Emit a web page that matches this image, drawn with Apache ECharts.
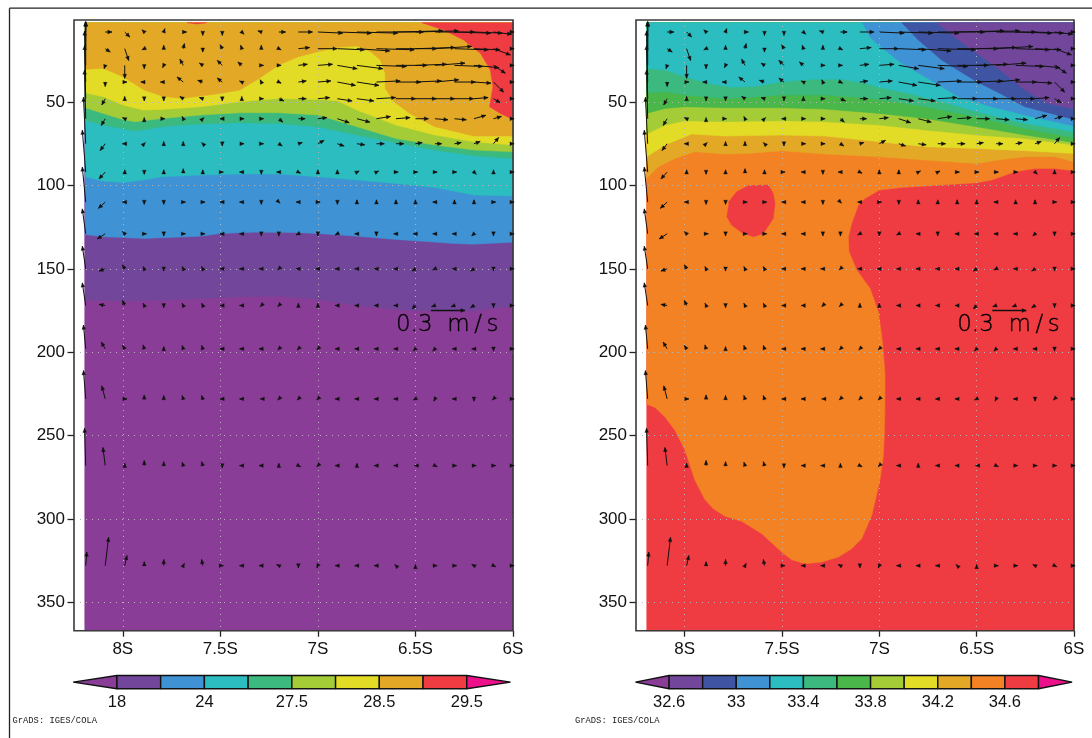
<!DOCTYPE html>
<html><head><meta charset="utf-8">
<style>html,body{margin:0;padding:0;background:#fff}#c{width:1092px;height:738px}</style>
<script src="https://cdn.jsdelivr.net/npm/echarts@6/dist/echarts.min.js"></script>
</head><body><div id="c"></div>
<script>
// ---------- axes ----------
const latTicks = [-8, -7.5, -7, -6.5, -6];
const depthTicks = [50, 100, 150, 200, 250, 300, 350];

// ---------- colours ----------
const PURPLE='#8a3d96', DPURPLE='#72479b', DBLUE='#3f55a4', BLUE='#3f92d3', TEAL='#2bbdc0',
      TGREEN='#3bb97f', GREEN='#49b749', LIME='#a3cc36', YELLOW='#e3dc26', GOLD='#e3a825',
      ORANGE='#f28223', RED='#ef3c42', MAGENTA='#ec118a';

// ---------- colour bars ----------
const tempBarColors = [PURPLE,DPURPLE,BLUE,TEAL,TGREEN,LIME,YELLOW,GOLD,RED,MAGENTA];
const tempBarLabels = {1:'18',3:'24',5:'27.5',7:'28.5',9:'29.5'};
const saltBarColors = [PURPLE,DPURPLE,DBLUE,BLUE,TEAL,TGREEN,GREEN,LIME,YELLOW,GOLD,ORANGE,RED,MAGENTA];
const saltBarLabels = {1:'32.6',3:'33',5:'33.4',7:'33.8',9:'34.2',11:'34.6'};

// ---------- field extent ----------
const fieldLeftLat = -8.195, fieldRightLat = -6, fieldTop = 2.4, fieldBottom = 367;

// ---------- temperature isolines: [lat, depth] ----------
const t18 = [[-8.193,168.8],[-8,169.4],[-7.8,168.8],[-7.6,167.8],[-7.4,166.8],[-7.2,166.4],[-7,168.4],[-6.8,171.8],[-6.6,174.4],[-6.5,175.2],[-6.3,175.2],[-6.2,174.8],[-6,172.4]];
const t21 = [[-8.193,129.4],[-8.1,130.8],[-8,131.2],[-7.894,131.8],[-7.8,131.4],[-7.6,130.4],[-7.5,128.8],[-7.33,128],[-7.125,128.2],[-7,128.8],[-6.8,130.4],[-6.6,132.4],[-6.5,133.2],[-6.3,134.8],[-6.2,135.2],[-6,134]];
const t24 = [[-8.193,94.8],[-8.1,97.4],[-8,98.2],[-7.894,96.8],[-7.8,94.8],[-7.6,93.8],[-7.4,93.2],[-7.2,93.2],[-7,94.8],[-6.8,96.8],[-6.6,98.8],[-6.4,101.2],[-6.2,105.8],[-6,106.4]];
const t26 = [[-8.193,60.8],[-8.1,63.8],[-8,65.8],[-7.937,67.4],[-7.8,64.8],[-7.7,63.8],[-7.6,63.2],[-7.4,62.4],[-7.2,62.8],[-7,64.8],[-6.8,69.8],[-6.6,74.4],[-6.4,78.8],[-6.2,82.2],[-6,83.8]];
const t275 = [[-8.193,53.4],[-8.1,56.8],[-8,60.4],[-7.937,61.8],[-7.8,59.8],[-7.6,57.8],[-7.4,56.4],[-7.2,56.4],[-7,57.8],[-6.8,64.8],[-6.6,71.8],[-6.4,75.8],[-6.2,78.8],[-6,79.8]];
const t28 = [[-8.193,44.4],[-8.1,46.8],[-8,51.8],[-7.894,54.8],[-7.8,54.4],[-7.6,52.8],[-7.4,49.8],[-7.2,47.8],[-7,48.4],[-6.9,49.2],[-6.8,54.8],[-6.6,63.8],[-6.4,69.8],[-6.2,73.8],[-6,75.8]];
const t285 = [[-8.19,30.4],[-8.1,29.8],[-8,34.8],[-7.89,42.8],[-7.8,46.4],[-7.7,47.8],[-7.6,46.4],[-7.5,44.8],[-7.4,42.8],[-7.3,35.8],[-7.2,27.8],[-7.1,22.8],[-7,19.8],[-6.9,17.2],[-6.8,16.4],[-6.73,19.8],[-6.68,24.8],[-6.655,32.8],[-6.655,41.8],[-6.61,49.8],[-6.53,56.8],[-6.4,64.8],[-6.2,70.4],[-6,70.4]];
const t29 = [[-6.467,2.4],[-6.355,6.8],[-6.253,12.8],[-6.167,20.8],[-6.116,30.8],[-6.103,40.8],[-6.12,52.8],[-6.065,56.8],[-6,60.4]];
const t29Sliver = [[-7.67,2.4],[-7.62,3.2],[-7.57,2.4]];

// ---------- salinity isolines: [lat, depth] ----------
const s344 = [[-6,91.2],[-6.098,89.8],[-6.2,89.8],[-6.303,91.8],[-6.423,96.8],[-6.5,98.4],[-6.68,99.8],[-6.885,101.2],[-7,102.8],[-7.074,107.8],[-7.108,111.8],[-7.142,122.8],[-7.159,130.8],[-7.156,139.8],[-7.116,150.8],[-7.048,161.8],[-7.005,175.8],[-6.985,192.8],[-6.971,212.8],[-6.971,228.8],[-6.974,248.8],[-6.98,262.8],[-6.997,276.8],[-7.039,297.8],[-7.091,311.8],[-7.142,317.8],[-7.21,322.8],[-7.296,325.8],[-7.382,326.8],[-7.45,324.4],[-7.502,319.8],[-7.604,308.8],[-7.707,301.4],[-7.793,298.4],[-7.853,293.8],[-7.896,288.4],[-7.947,276.8],[-7.998,258.8],[-8.05,246.8],[-8.101,238.8],[-8.152,233.2],[-8.195,231.2]];
const s344Blob = [[-7.776,110.2],[-7.733,103.8],[-7.673,100.2],[-7.57,99.8],[-7.545,104.8],[-7.536,110.8],[-7.545,119.8],[-7.596,128.8],[-7.647,130.8],[-7.707,128.2],[-7.759,123.8],[-7.783,118.8],[-7.772,110.8]];
const s342 = [[-8.195,95.8],[-8.135,88.8],[-8.05,83.8],[-7.947,79.8],[-7.793,81.2],[-7.673,80.8],[-7.502,79.2],[-7.279,81.2],[-7,82.8],[-6.765,84.8],[-6.5,86.8],[-6.389,84.8],[-6.252,82.8],[-6.098,82.8],[-6,85.8]];
const s340 = [[-8.195,82.8],[-8.101,75.8],[-7.964,69.2],[-7.793,70.4],[-7.502,69.8],[-7.279,70.4],[-7,73.8],[-6.765,76.8],[-6.5,77.8],[-6.252,79.2],[-6,80.8]];
const s338 = [[-8.195,69.2],[-8.101,63.8],[-7.998,61.2],[-7.793,61.8],[-7.502,61.2],[-7.279,61.8],[-7,63.8],[-6.765,66.8],[-6.5,69.8],[-6.252,71.8],[-6,75.8]];
const s336 = [[-8.195,56.8],[-8.101,53.8],[-7.998,52.8],[-7.793,53.4],[-7.502,53.4],[-7.279,54.2],[-7,56.8],[-6.765,59.8],[-6.5,64.8],[-6.252,69.8],[-6,74.2]];
const s334 = [[-8.195,44.4],[-8.101,43.8],[-7.998,45.8],[-7.793,47.8],[-7.673,47.2],[-7.502,45.8],[-7.279,45.8],[-7.108,47.2],[-7,48.4],[-6.765,52.8],[-6.5,58.8],[-6.252,65.8],[-6,71.4]];
const s332 = [[-8.195,29.8],[-8.101,30.8],[-7.998,34.8],[-7.878,38.8],[-7.759,41.2],[-7.622,40.4],[-7.502,37.8],[-7.348,36.4],[-7.193,36.4],[-7.074,38.8],[-7,41.2],[-6.851,44.8],[-6.68,49.8],[-6.5,55.8],[-6.252,62.8],[-6,67.8]];
const s330 = [[-7.087,2.4],[-7.048,10.8],[-7.005,15.8],[-6.885,26.8],[-6.765,34.8],[-6.594,46.8],[-6.423,52.8],[-6.252,57.8],[-6,64.4]];
const s328 = [[-6.885,2.4],[-6.8,12.8],[-6.68,24.8],[-6.5,37.8],[-6.38,44.8],[-6.252,52.8],[-6,60.4]];
const s326 = [[-6.705,2.4],[-6.594,12.8],[-6.5,20.8],[-6.38,30.8],[-6.252,42.8],[-6.132,50.8],[-6,54.2]];

// ---------- velocity section, cm/s, shared by both panels ----------
const vectorLats = [-8.19,-8.09,-7.99,-7.89,-7.79,-7.69,-7.59,-7.49,-7.39,-7.29,-7.2,-7.1,-7,-6.9,-6.8,-6.7,-6.6,-6.5,-6.4,-6.3,-6.2,-6.1,-6];
const vectorDepths = [8,18,28,38,48,60,75,92,110,129,150,172,198,228,268,328];
const u08=[0,6,4.5,-2,1,3,0,0,2,-3,6,12.5,22,30,36,41.5,41.5,38,35,32,25,16,1];
const w08=[9,0,-4.5,2,3,0,-3,-3,-2,1,0,0,-1,-1,-1,0,1,1,0,-1,-1,-2,0];
const u18=[0,4.5,3.5,-2,0,1,0,-2,-1,0,2,10,17,24,29,33.5,36,35,32.5,30,23,15,1];
const w18=[24,-3,-10.5,-1,3,4.5,-3,3.5,3,3,-1,1,0,-1,-2,-1,0,1,2,-1,-1,-5.5,0];
const u28=[0,-1,0,0,-1,-3,-3,-4.5,-3.5,2,2,8,13,17.5,23,26.5,27.5,27.5,26.5,25,22,10.5,1];
const w28=[38,-3,-11.5,-3,-2,5.5,2,4.5,3,0,0,1,1,-3,-3,-1,0,1,2,-1,-2,-7,0];
const u38=[-1,0,2,-3,-3,-5.5,-4.5,-4.5,-2,-1,2,7,11.5,16,19.5,21,22,23,21,18.5,15,9,1];
const w38=[45,-4,0,0,0,4.5,1.5,3.5,1,2,-1,1,1,-3,-3,1,0,1,2,0,-1,-9,0];
const u48=[-1,-3,0,0,0,-3,-3,0,0,2,4.5,7,10.5,13,15,17,17.5,18.5,17.5,17,12.5,6,1];
const w48=[47,-5.5,2,-2,-2,2,1,-2,2,0,-2,0,1,-2,-2,1,0,0,0,0,1,-3.5,0];
const u60=[-1,-3.5,-2,0,1,-1,1,-2,2,2,3.5,6,8,10.5,11.5,12.5,12.5,11.5,11.5,10.5,10.5,7,1];
const w60=[43,-6,1,1,0,2,1,0,0,0,-3,0,1,-3.5,-3,2,1,0,-1,-1,3,2,0];
const u75=[-2,-4.5,-2,1,0,0,-1,0,2,2,3,3.5,5.5,6,7,7,7,6,6,6,5.5,4.5,1];
const w75=[41,-6,0,1,2,2,1,-2,0,0,-2,1,3,-2,-1,0,0,1,0,1,2,5.5,0];
const u92=[-3,-5.5,0,0,0,0,0,1,-2,0,-2,2,0,0,2,2,2,2,2,2,2,0,1];
const w92=[37,-6,2,-2,2,3,2,0,0,-2,0,-1,2,2,1,1,0,0,0,0,-2,2,0];
const u110=[-3,-6,-2,0,0,2,2,-2,-2,0,1,-2,2,0,0,0,0,0,-2,0,0,2,1];
const w110=[31,-5.5,0,-2,-2,0,0,0,0,-2,-1,0,0,-2,2,2,2,2,0,2,2,0,0];
const u129=[-3,-7,-2,2,0,2,2,-2,-2,0,0,-2,0,-2,-2,0,-2,-2,-2,-2,-2,0,1];
const w129=[22,-4.5,2,0,-2,0,0,0,0,-2,-2,-1,-2,-1,0,-2,0,0,0,0,-2,-2,0];
const u150=[-3,-5.5,-2,-1,0,-1,-1,-2,-2,-2,-1,-2,-2,-2,-2,-2,-2,-3,-2,-2,-3,0,1];
const w150=[20,-2,3.5,2,-2,2,2,0,0,0,-1,0,0,0,0,0,0,-2,-1,0,-2,-2,0];
const u172=[-3,-5.5,-2,-1,0,-1,-1,-2,-2,-1,-1,0,0,-2,-2,-2,-2,-3,-3,-3,-3,0,1];
const w172=[20,1,4.5,2,-2,2,2,0,0,-1,-1,2,2,0,0,0,0,-3,-1,-1,-2,-2,0];
const u198=[-2,-3.5,-2,-1,0,-1,-1,-2,-2,-2,-1,-1,-1,-2,-2,-2,-2,-2,-2,-2,-2,0,1];
const w198=[21,6,3,3.5,2,3,3,0,0,0,-1,-1,-1,0,0,0,0,-2,-2,0,0,-2,0];
const u228=[-2,-3,2,0,0,-1,-1,-2,-2,-1,-1,-1,-1,-2,-2,-2,-2,-2,-1,-2,0,-1,1];
const w228=[25,11.5,0,3.5,3,3,3,0,0,0,-1,-1,-1,0,0,0,0,-1,-2,0,-2,-1,0];
const u268=[-1,-2,0,0,0,-1,-1,0,-2,-2,0,2,-1,-2,0,-2,-2,-1,2,2,2,2,1];
const w268=[33,16,2,4.5,3.5,3,3.5,-2,0,0,2,-1,-1,0,2,0,0,0,-1,0,0,0,0];
const u328=[1,3,2,0,0,1,-1,1,-2,-2,-2,0,-1,-2,-2,-2,-1,0,2,2,-2,2,1];
const w328=[12,25,9,3.5,5.5,2,5.5,0,0,0,1,-2,-2,0,0,0,1,1,0,0,1,-1,0];
const uRows=[u08,u18,u28,u38,u48,u60,u75,u92,u110,u129,u150,u172,u198,u228,u268,u328];
const wRows=[w08,w18,w28,w38,w48,w60,w75,w92,w110,w129,w150,w172,w198,w228,w268,w328];
const refVector = [-6.42, 175, 30, 0];
const refLabelPos = [-6.6, 184];
const refLabel = '0.3  m\u2009/\u2009s';

// ---------- build ----------
const PX_PER_CM = 34/30;
const full = [[fieldLeftLat,fieldBottom],[fieldRightLat,fieldBottom],[fieldRightLat,fieldTop],[fieldLeftLat,fieldTop]];
const above = l => l.concat([[fieldRightLat,fieldTop],[l[0][0],fieldTop]]);

const tempBands = [
  [PURPLE,full],[DPURPLE,above(t18)],[BLUE,above(t21)],[TEAL,above(t24)],[TGREEN,above(t26)],
  [LIME,above(t275)],[YELLOW,above(t28)],[GOLD,above(t285)],[RED,above(t29)],[RED,t29Sliver]
];
const saltBands = [
  [RED,full],[ORANGE,s344.concat([[fieldLeftLat,fieldTop],[fieldRightLat,fieldTop]])],[RED,s344Blob],
  [GOLD,above(s342)],[YELLOW,above(s340)],[LIME,above(s338)],[GREEN,above(s336)],[TGREEN,above(s334)],
  [TEAL,above(s332)],[BLUE,above(s330)],[DBLUE,above(s328)],[DPURPLE,above(s326)]
];

function bandSeries(bands, ax){
  return {type:'custom',coordinateSystem:'cartesian2d',xAxisIndex:ax,yAxisIndex:ax,z:1,silent:true,animation:false,
    data:bands.map((b,i)=>[i]),
    renderItem(p,api){
      const b=bands[p.dataIndex];
      return {type:'polygon',shape:{points:b[1].map(q=>api.coord(q))},style:{fill:b[0],stroke:b[0],lineWidth:0.5}};
    }};
}
function arrowShape(tail,u,w){
  const tip=[tail[0]+u*PX_PER_CM,tail[1]-w*PX_PER_CM];
  const len=Math.hypot(u,w)||1, dx=u/len, dy=-w/len, h=4.2, s=1.9;
  const b=[tip[0]-dx*h,tip[1]-dy*h];
  return [
    {type:'line',shape:{x1:tail[0],y1:tail[1],x2:tip[0],y2:tip[1]},style:{stroke:'#111',lineWidth:1}},
    {type:'polygon',shape:{points:[tip,[b[0]-dy*s,b[1]+dx*s],[b[0]+dy*s,b[1]-dx*s]]},style:{fill:'#111',stroke:'#111',lineWidth:0.3}}
  ];
}
const vectorData=[];
vectorDepths.forEach((d,r)=>vectorLats.forEach((la,c)=>vectorData.push([la,d,uRows[r][c],wRows[r][c]])));
function vectorSeries(ax){
  return {type:'custom',coordinateSystem:'cartesian2d',xAxisIndex:ax,yAxisIndex:ax,z:6,silent:true,animation:false,
    data:vectorData,encode:{x:0,y:1},clip:false,
    renderItem(p,api){
      const t=api.coord([api.value(0),api.value(1)]);
      return {type:'group',children:arrowShape(t,api.value(2),api.value(3))};
    }};
}
function refSeries(ax){
  return {type:'custom',coordinateSystem:'cartesian2d',xAxisIndex:ax,yAxisIndex:ax,z:7,silent:true,animation:false,
    data:[refVector],encode:{x:0,y:1},
    renderItem(p,api){
      const t=api.coord([api.value(0),api.value(1)]);
      const l=api.coord(refLabelPos);
      const kids=arrowShape(t,api.value(2),api.value(3));
      kids[0].style.lineWidth=1.5;
      kids.push({type:'text',x:l[0],y:l[1],style:{text:refLabel,fill:'#000',stroke:'#000',lineWidth:0.35,font:'23px "DejaVu Sans Light","DejaVu Sans"',textAlign:'left',textVerticalAlign:'middle'}});
      return {type:'group',children:kids};
    }};
}
function barSeries(colors, ax){
  const n=colors.length;
  return {type:'custom',coordinateSystem:'cartesian2d',xAxisIndex:ax,yAxisIndex:ax,z:3,silent:true,animation:false,
    data:colors.map((c,i)=>[i]),
    renderItem(p,api){
      const i=p.dataIndex, st={fill:colors[i],stroke:'#111',lineWidth:1.4,lineJoin:'bevel'};
      const a=api.coord([i,0]), b=api.coord([i+1,1]);
      const mid=(a[1]+b[1])/2;
      if(i===0) return {type:'polygon',shape:{points:[[a[0],mid],[b[0],a[1]],[b[0],b[1]]]},style:st};
      if(i===n-1) return {type:'polygon',shape:{points:[[b[0],mid],[a[0],a[1]],[a[0],b[1]]]},style:st};
      return {type:'rect',shape:{x:a[0],y:b[1],width:b[0]-a[0],height:a[1]-b[1]},style:st};
    }};
}

const FONT='"Liberation Sans"';
function mainX(gi){
  return {type:'value',gridIndex:gi,min:-8.25,max:-6,z:3,
    axisLine:{show:false},
    axisTick:{show:true,length:6,customValues:latTicks,lineStyle:{color:'#222',width:1.3}},
    splitLine:{show:true,customValues:latTicks,lineStyle:{color:'#b8b8b8',type:[1,5],width:1}},
    axisLabel:{customValues:latTicks,margin:10,fontFamily:FONT,fontSize:17,color:'#111',formatter:v=>Math.abs(v)+'S'}};
}
function mainY(gi){
  return {type:'value',gridIndex:gi,min:0.8,max:367,inverse:true,z:3,
    axisLine:{show:false},
    axisTick:{show:true,length:6.5,customValues:depthTicks,lineStyle:{color:'#222',width:1.3}},
    splitLine:{show:true,customValues:depthTicks,lineStyle:{color:'#b8b8b8',type:[1,5],width:1}},
    axisLabel:{customValues:depthTicks,margin:9,fontFamily:FONT,fontSize:17,color:'#111'}};
}
function barX(gi,colors,labels){
  return {type:'value',gridIndex:gi,min:0,max:colors.length,
    axisLine:{show:false},axisTick:{show:false},splitLine:{show:false},
    axisLabel:{customValues:Object.keys(labels).map(Number),margin:5,fontFamily:FONT,fontSize:16.5,color:'#111',formatter:v=>labels[v]}};
}
const barY = gi=>({type:'value',gridIndex:gi,min:0,max:1,show:false});
const frame = {show:true,borderColor:'#3a3a3a',borderWidth:1.6,backgroundColor:'transparent',z:5};

const chart=echarts.init(document.getElementById('c'),null,{renderer:'canvas'});
chart.setOption({
  backgroundColor:'#fff',animation:false,
  grid:[
    Object.assign({left:74,top:20,width:439,height:610.7},frame),
    Object.assign({left:636,top:20,width:438,height:610.7},frame),
    {left:73.2,top:675.5,width:437.3,height:13.3},
    {left:635.5,top:675.5,width:436.6,height:13.3}
  ],
  xAxis:[mainX(0),mainX(1),barX(2,tempBarColors,tempBarLabels),barX(3,saltBarColors,saltBarLabels)],
  yAxis:[mainY(0),mainY(1),barY(2),barY(3)],
  series:[
    bandSeries(tempBands,0),bandSeries(saltBands,1),
    vectorSeries(0),vectorSeries(1),refSeries(0),refSeries(1),
    barSeries(tempBarColors,2),barSeries(saltBarColors,3)
  ],
  graphic:[
    {type:'line',shape:{x1:9.5,y1:8.2,x2:1092,y2:8.2},style:{stroke:'#222',lineWidth:1.3}},
    {type:'line',shape:{x1:9.5,y1:8.2,x2:9.5,y2:738},style:{stroke:'#222',lineWidth:1.3}},
    {type:'text',x:12.5,y:721,style:{text:'GrADS: IGES/COLA',font:'8.8px "Liberation Mono"',fill:'#222',textVerticalAlign:'middle'}},
    {type:'text',x:575,y:721,style:{text:'GrADS: IGES/COLA',font:'8.8px "Liberation Mono"',fill:'#222',textVerticalAlign:'middle'}}
  ]
});
</script></body></html>
